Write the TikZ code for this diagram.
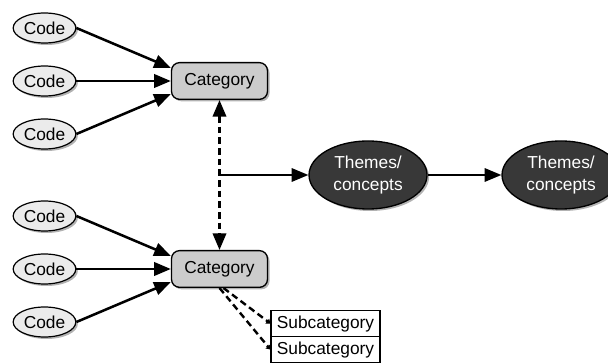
\documentclass[tikz,border=0pt]{standalone}
\usepackage{fontspec}
\setmainfont{Liberation Sans}
\usetikzlibrary{positioning, shapes.geometric, shadows, arrows.meta}

\begin{document}
\begin{tikzpicture}[x=0.75pt, y=-0.75pt, on grid, ->, >={Triangle[length=12.5pt, width=10pt]}, line width=1.9pt,
    code node/.style={ellipse, draw, line width=0.9pt, fill=black!8, minimum width=47pt, minimum height=22.5pt, inner sep=0pt,
      drop shadow={shadow xshift=1.5pt, shadow yshift=-1.5pt, opacity=.5, fill=black!60}},
    cat node/.style={rectangle, rounded corners=6pt, draw, line width=1pt, fill=black!20, minimum width=72pt, minimum height=27.5pt,
      drop shadow={shadow xshift=1.5pt, shadow yshift=-1.5pt, opacity=.5, fill=black!60}},
    theme node/.style={ellipse, draw, line width=1pt, fill=black!78, text=white, minimum width=88.5pt, minimum height=51pt, inner sep=0pt, align=center,
      drop shadow={shadow xshift=1.5pt, shadow yshift=-1.5pt, opacity=.5, fill=black!60}},
    sub node/.style={rectangle, draw, line width=0.8pt, fill=white, minimum width=81.75pt, minimum height=19.5pt, inner sep=0pt}]
  \tikzstyle{every node}=[font=\fontsize{13}{16.5}\selectfont]

  \useasboundingbox (0,0) rectangle (608,363);

  \node[cat node] (cat1) at (219.5,81) {Category};
  \node[code node] (c2) [left=131.25pt of cat1] {Code};
  \node[code node] (c1) [above=39.75pt of c2] {Code};
  \node[code node] (c3) [below=39.75pt of c2] {Code};

  \node[cat node] (cat2) [below=141pt of cat1] {Category};
  \node[code node] (c5) [left=131.25pt of cat2] {Code};
  \node[code node] (c4) [above=39.75pt of c5] {Code};
  \node[code node] (c6) [below=39.75pt of c5] {Code};

  \node[theme node] (th1) [below right=70.5pt and 111.4pt of cat1] {Themes/\\concepts};
  \node[theme node] (th2) [right=144.75pt of th1] {Themes/\\concepts};
  \coordinate (mid) at (cat1 |- th1);

  \node[sub node] (s1) [below right=40.9pt and 79.5pt of cat2] {Subcategory};
  \node[sub node] (s2) [below=19.5pt of s1] {Subcategory};

  \path
    (c1.east) edge ([yshift=9.75pt]cat1.west)
    (c2.east) edge (cat1.west)
    (c3.east) edge ([yshift=-9.75pt]cat1.west)
    (c4.east) edge ([yshift=9.75pt]cat2.west)
    (c5.east) edge (cat2.west)
    (c6.east) edge ([yshift=-9.75pt]cat2.west);

  \path[line width=1.5pt]
    (mid) edge (th1)
    (th1) edge (th2);

  \draw[<->, dash pattern=on 5pt off 3pt] (cat1) -- (cat2);

  \path[line width=1.8pt, dash pattern=on 5pt off 3pt, -{Triangle[length=3pt, width=4.5pt]}]
    ([xshift=3pt]cat2.south) edge (s1.west)
    ([xshift=0pt]cat2.south) edge (s2.west);
\end{tikzpicture}
\end{document}
